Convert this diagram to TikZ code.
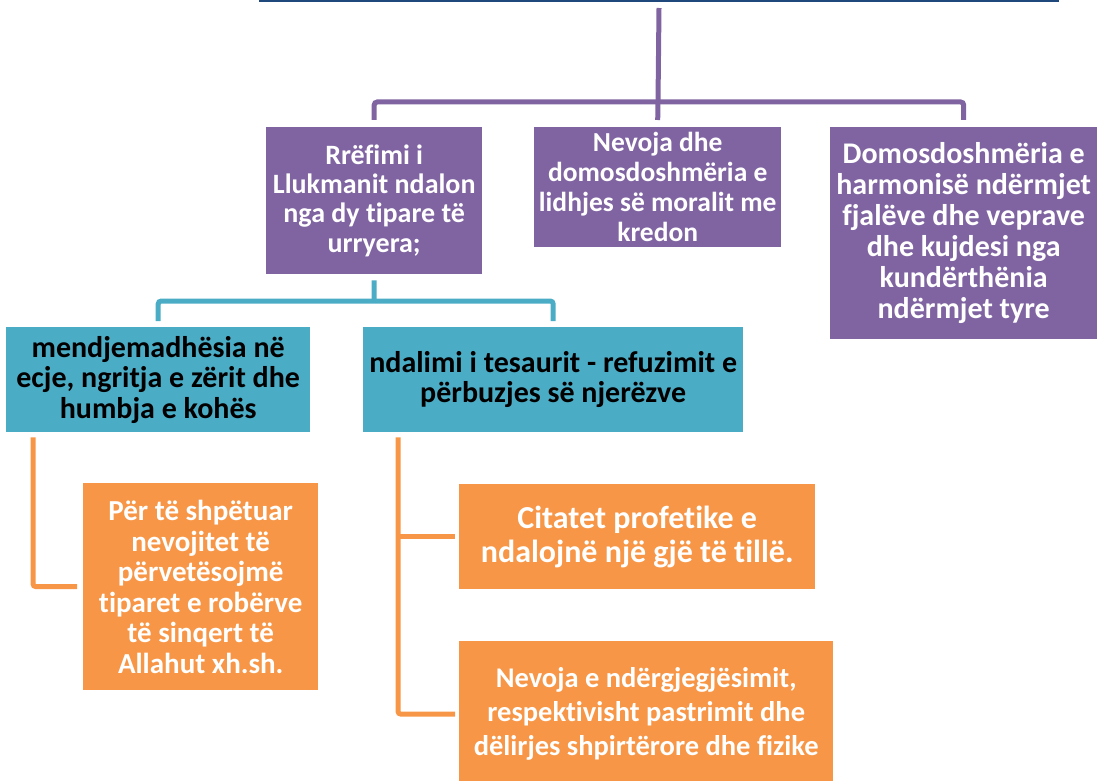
\documentclass[tikz,border=0pt]{standalone}
\usepackage{fontspec}
\setmainfont{Carlito}[Ligatures=NoCommon]
\definecolor{ppl}{RGB}{128,100,162}
\definecolor{tel}{RGB}{75,172,198}
\definecolor{org}{RGB}{247,150,70}
\definecolor{dkb}{RGB}{31,73,125}
\tikzset{
  box/.style={anchor=north west, inner sep=0pt, align=center},
  pbox/.style={box, fill=ppl, text=white},
  tbox/.style={box, fill=tel, text=black},
  obox/.style={box, fill=org, text=white},
  pl/.style={draw=ppl, line width=5pt, rounded corners=3pt},
  bl/.style={draw=tel, line width=5pt, rounded corners=3pt},
  ol/.style={draw=org, line width=5pt, rounded corners=3pt}
}
\begin{document}
\begin{tikzpicture}[x=1pt,y=-1pt]
\useasboundingbox (0,0) rectangle (1102,781);
\clip (0,0) rectangle (1102,781);
% root (cut off at top)
\node[anchor=south west, minimum width=797pt, minimum height=60pt, inner sep=0pt, fill=white, draw=dkb, line width=3pt] (root) at (259,2) {};
% purple level
\node[pbox, minimum width=216pt, minimum height=147pt, font=\bfseries\fontsize{28}{29.3}\selectfont] (p1) at (266,127) {Rrëfimi i\\Llukmanit ndalon\\nga dy tipare të\\urryera;};
\node[pbox, minimum width=247pt, minimum height=120pt, font=\bfseries\fontsize{27.5}{30}\selectfont] (p2) at (534,127) {Nevoja dhe\\domosdoshmëria e\\lidhjes së moralit me\\kredon};
\node[pbox, minimum width=267pt, minimum height=212pt, font=\bfseries\fontsize{30}{31}\selectfont] (p3) at (830,127) {Domosdoshmëria e\\harmonisë ndërmjet\\fjalëve dhe veprave\\dhe kujdesi nga\\kundërthënia\\ndërmjet tyre};
% teal level
\node[tbox, minimum width=304pt, minimum height=105pt, font=\bfseries\fontsize{30}{30.5}\selectfont] (b1) at (6,327) {mendjemadhësia në\\ecje, ngritja e zërit dhe\\humbja e kohës};
\node[tbox, minimum width=380pt, minimum height=105pt, font=\bfseries\fontsize{30}{30.5}\selectfont] (b2) at (363,327) {ndalimi i tesaurit - refuzimit e\\përbuzjes së njerëzve};
% orange level
\node[obox, minimum width=235pt, minimum height=207pt, font=\bfseries\fontsize{29}{30.5}\selectfont] (oA) at (83,483) {Për të shpëtuar\\nevojitet të\\përvetësojmë\\tiparet e robërve\\të sinqert të\\Allahut xh.sh.};
\node[obox, minimum width=356pt, minimum height=105pt, font=\bfseries\fontsize{32}{34}\selectfont] (oB) at (459,484) {Citatet profetike e\\ndalojnë një gjë të tillë.};
\node[obox, minimum width=374pt, minimum height=146pt, font=\bfseries\fontsize{28.5}{34}\selectfont] (oC) at (459,641) {Nevoja e ndërgjegjësimit,\\respektivisht pastrimit dhe\\dëlirjes shpirtërore dhe fizike};
% purple connectors
\coordinate (pj) at (658,102);
\draw[pl] ([yshift=-6pt]root.south) -- (pj);
\draw[pl] ([yshift=7pt]p1.north) |- (pj) -| ([yshift=7pt]p3.north);
\draw[pl] (pj) -- ([yshift=7pt]p2.north);
% teal connectors
\coordinate (bj) at (374,301);
\draw[bl] ([yshift=-6pt]p1.south) -- (bj);
\draw[bl] ([yshift=6pt]b1.north) |- (bj) -| ([yshift=6pt]b2.north);
% orange connectors
\coordinate (lt) at ([shift={(27pt,-5pt)}]b1.south west);
\draw[ol] (lt) |- ([xshift=-6pt]oA.west);
\coordinate (rt) at ([shift={(35pt,-5pt)}]b2.south west);
\draw[ol] (rt) |- ([xshift=-4pt]oC.west);
\draw[ol] (oB.west -| rt) -- ([xshift=-4pt]oB.west);
\end{tikzpicture}
\end{document}
